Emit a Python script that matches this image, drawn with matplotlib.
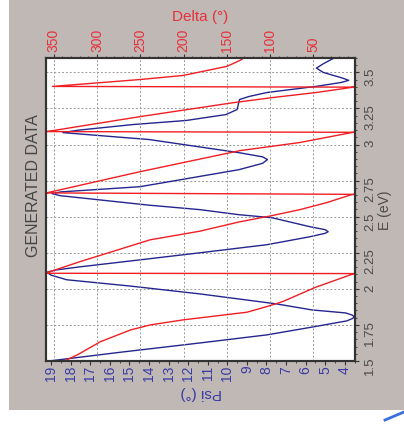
import numpy as np
import matplotlib
matplotlib.use('Agg')
import matplotlib.pyplot as plt
from matplotlib.patches import Rectangle
from matplotlib.lines import Line2D
from matplotlib.ticker import MultipleLocator, FormatStrFormatter

plt.rcParams['font.family'] = ['Liberation Sans', 'DejaVu Sans']

# Psi (deg) vs photon energy E (eV)
psi_e = [1.500, 1.560, 1.625, 1.681, 1.736, 1.778, 1.795, 1.806, 1.818, 1.833,
         1.854, 1.896, 1.965, 2.020, 2.063, 2.095, 2.115, 2.130, 2.153, 2.201,
         2.250, 2.306, 2.361, 2.385, 2.396, 2.410, 2.431, 2.493, 2.514, 2.549,
         2.580, 2.646, 2.660, 2.672, 2.708, 2.826, 2.870, 2.896, 2.915, 2.944,
         3.035, 3.062, 3.083, 3.100, 3.139, 3.167, 3.208, 3.243, 3.312, 3.333,
         3.361, 3.403, 3.430, 3.445, 3.460, 3.500, 3.530, 3.560, 3.604]
psi = [19.1, 15.5, 11.4, 7.98, 5.63, 3.90, 3.60, 3.52, 3.62, 3.95,
       5.68, 7.50, 11.4, 15.0, 18.2, 19.0, 19.22, 18.8, 17.5, 14.46,
       11.4, 7.98, 5.79, 5.00, 4.85, 5.00, 5.79, 7.72, 9.41, 11.4,
       14.0, 18.54, 18.95, 18.5, 14.46, 9.41, 8.2, 7.95, 8.2, 9.41,
       14.0, 16.5, 18.4, 17.6, 14.8, 12.1, 10.07, 9.5, 9.38, 8.9,
       7.97, 5.48, 4.2, 3.8, 4.1, 5.1, 5.45, 5.1, 4.49]

# Delta (deg) vs E (eV), wraps 0 -> 360
delta_e = [1.500, 1.542, 1.634, 1.715, 1.750, 1.785, 1.838, 1.877, 1.912, 2.010, 2.104, 2.106,
           2.108, 2.111, 2.190, 2.340, 2.400, 2.465, 2.505, 2.549, 2.597, 2.653, 2.655,
           2.665, 2.667, 2.8125, 2.958, 2.986, 3.014, 3.083, 3.085,
           3.090, 3.092, 3.194, 3.290, 3.326, 3.361, 3.396, 3.398,
           3.403, 3.451, 3.479, 3.542, 3.583, 3.597, 3.610]
delta = [338, 323, 296, 261.5, 238.6, 200.6, 127, 104, 85.4, 48, 4, 1,
         360, 358.5, 319, 238.6, 181, 135, 100, 65.8, 35, 6, 1,
         360, 357, 250, 135, 100.5, 66, 6, 1,
         360, 356, 250, 143, 97, 46.5, 6, 1,
         351.5, 250, 200.6, 150, 135, 131.3, 135]

psi_ticks = np.arange(4, 20, 1)
delta_ticks = np.arange(50, 400, 50)
e_ticks = [1.5, 1.75, 2, 2.25, 2.5, 2.75, 3, 3.25, 3.5]

W, H = 404, 424
red = '#f01e23'
blue = '#25258f'
dark = '#333333'

fig = plt.figure(figsize=(W / 100, H / 100), dpi=100)
fig.patch.set_facecolor('white')
fig.add_artist(Rectangle((9 / W, 14 / H), 1 - 9 / W, 1 - 14 / H, transform=fig.transFigure,
                         facecolor='#c0b8b5', edgecolor='none', zorder=-10))
fig.add_artist(Line2D([385 / W, 1.0], [4 / H, 12 / H], color='#3a6fe0', lw=2))

ax = fig.add_axes([46 / W, 63 / H, 309 / W, 303 / H])
ax.set_facecolor('white')
ax.plot(psi, psi_e, color=blue, lw=1.0)
ax.set_xlim(19.26, 3.48)
ax.set_ylim(1.5, 3.6)
ax.set_xticks(psi_ticks)
ax.xaxis.set_minor_locator(MultipleLocator(0.5))
ax.set_yticks(e_ticks)
ax.yaxis.set_minor_locator(MultipleLocator(0.05))
ax.yaxis.set_major_formatter(FormatStrFormatter('%g'))
ax.yaxis.tick_right()
ax.tick_params(axis='x', which='both', direction='out', colors=dark, labelcolor='#3a3aa6',
               labelsize=10, labelrotation=90, pad=0.5)
ax.tick_params(axis='x', which='major', length=3)
ax.tick_params(axis='x', which='minor', length=1.5)
ax.tick_params(axis='y', which='both', direction='out', colors=dark, labelcolor='#4a4a4a',
               labelsize=9.5, labelrotation=90, pad=3.5, left=False, right=True)
ax.tick_params(axis='y', which='major', length=3)
ax.tick_params(axis='y', which='minor', length=1.5)
ax.grid(axis='y', color='#9a9a9a', lw=0.7, linestyle=(0, (2, 2)))

ax2 = ax.twiny()
ax2.plot(delta, delta_e, color=red, lw=1.0)
ax2.set_xlim(359, 2)
ax2.set_xticks(delta_ticks)
ax2.xaxis.set_minor_locator(MultipleLocator(10))
ax2.tick_params(axis='x', which='both', direction='out', colors=dark, labelcolor='#e8303a',
                labelsize=10, labelrotation=90, pad=1.5)
ax2.tick_params(axis='x', which='major', length=3)
ax2.tick_params(axis='x', which='minor', length=1.5)
ax2.grid(axis='x', color='#9a9a9a', lw=0.7, linestyle=(0, (2, 2)))

for a in (ax, ax2):
    for s in a.spines.values():
        s.set_color(dark)
        s.set_linewidth(1.5)

fig.text(34 / W, 1 - 186 / H, 'GENERATED DATA', rotation=90, ha='center', va='center',
         fontsize=11.5, color='#454545')
fig.text(385 / W, 1 - 210 / H, 'E (eV)', rotation=90, ha='center', va='center',
         fontsize=10, color='#4a4a4a')
fig.text(201 / W, 1 - 393 / H, 'Psi (°)', rotation=180, ha='center', va='center',
         fontsize=11, color='#3a3aa6')
fig.text(200 / W, 1 - 17 / H, 'Delta (°)', ha='center', va='center',
         fontsize=11, color='#e8303a')

plt.savefig('out.png', dpi=100)
